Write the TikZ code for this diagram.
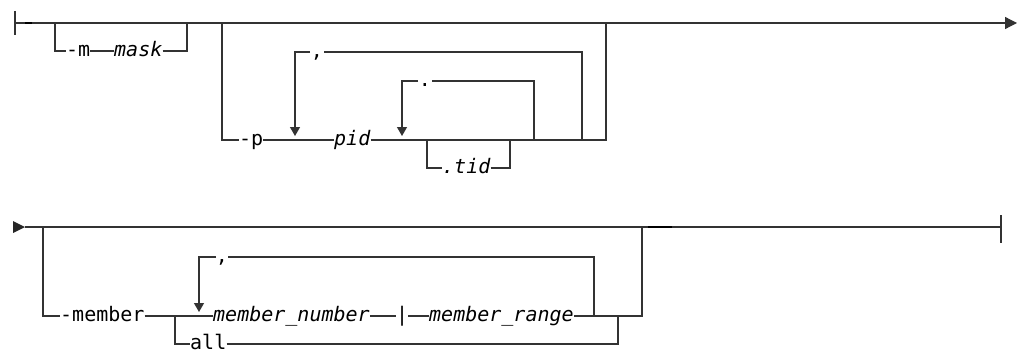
\documentclass[tikz,border=0pt]{standalone}
\usepackage{fontspec}
\setmonofont{DejaVu Sans Mono}
\usetikzlibrary{arrows.meta}
\begin{document}
\ttfamily\fontsize{20}{24}\selectfont
\begin{tikzpicture}[x=1pt,y=-1pt,
  rail/.style={draw=black!80, line width=1.2pt},
  heavy/.style={draw=black, line width=2.2pt},
  lbl/.style={inner sep=0pt, anchor=mid west, font=\ttfamily\fontsize{20}{24}\selectfont},
  var/.style={inner sep=0pt, anchor=mid west, font=\ttfamily\itshape\fontsize{20}{24}\selectfont},
  sepmark/.style={inner sep=0pt, anchor=mid, font=\ttfamily\fontsize{20}{24}\selectfont},
  looparrow/.style={-{Triangle[length=9pt,width=10pt]}},
  endarrow/.style={-{Triangle[length=12pt,width=12pt]}}]
\useasboundingbox (0,0) rectangle (1019,353);

% ---------- row 1 ----------
\coordinate (s1) at (15,23);
\coordinate (s1t) at (15,11);
\coordinate (s1b) at (15,35);
\coordinate (e1) at (1017,23);
\draw[rail] (s1t) -- (s1b);
\draw[rail,endarrow] (s1) -- (e1);
\coordinate (h1a) at (25,23); \coordinate (h1b) at (32,23);
\draw[heavy] (h1a) -- (h1b);

% -m mask
\coordinate (m1) at (55,23);
\coordinate (m2) at (187,23);
\node[lbl] (mopt) at (66,51) {-m};
\node[var] (mask) at (114,51) {mask};
\draw[rail] (m1) |- (mopt.mid west);
\draw[rail] (mopt.mid east) -- (mask.mid west);
\draw[rail] (mask.mid east) -| (m2);

% -p pid
\coordinate (p1) at (222,23);
\coordinate (p2) at (606,23);
\node[lbl] (popt) at (239,140) {-p};
\node[var] (pid) at (334,140) {pid};
\draw[rail] (p1) |- (popt.mid west);
\draw[rail] (popt.mid east) -- (pid.mid west);
\draw[rail] (pid.mid east) -| (p2);

% comma repeat loop
\coordinate (c1) at (295,136);
\coordinate (c2) at (582,140);
\node[sepmark] (cm1) at (317,52) {,};
\draw[rail] (c2) |- ([xshift=7pt]cm1.mid);
\draw[rail,looparrow] ([xshift=-7pt]cm1.mid) -| (c1);

% dot repeat loop
\coordinate (d1) at (402,136);
\coordinate (d2) at (534,140);
\node[sepmark] (dt1) at (425,81) {.};
\draw[rail] (d2) |- ([xshift=7pt]dt1.mid);
\draw[rail,looparrow] ([xshift=-7pt]dt1.mid) -| (d1);

% .tid optional
\coordinate (t1) at (427,140);
\coordinate (t2) at (510,140);
\node[var] (tid) at (442,168) {.tid};
\draw[rail] (t1) |- (tid.mid west);
\draw[rail] (tid.mid east) -| (t2);

% ---------- row 2 ----------
\coordinate (s2) at (13,227);
\coordinate (s2tip) at (25,227);
\coordinate (s2u) at (13,221);
\coordinate (s2d) at (13,233);
\fill[black!85] (s2u) -- (s2tip) -- (s2d) -- cycle;
\coordinate (e2) at (1001,227);
\coordinate (e2t) at (1001,215);
\coordinate (e2b) at (1001,243);
\draw[rail] (s2tip) -- (e2);
\draw[rail] (e2t) -- (e2b);
\coordinate (h2a) at (648,227); \coordinate (h2b) at (672,227);
\draw[heavy] (h2a) -- (h2b);

\coordinate (b1) at (43,227);
\coordinate (b2) at (642,227);
\node[lbl] (mem) at (60,316) {-member};
\node[var] (mnum) at (213,316) {member\_number};
\node[lbl] (bar) at (396,316) {|};
\node[var] (mrange) at (429,316) {member\_range};
\coordinate (j1) at (175,316);
\coordinate (j2) at (618,316);
\node[lbl] (all) at (190,344) {all};
\draw[rail] (b1) |- (mem.mid west);
\draw[rail] (mem.mid east) -- (mnum.mid west);
\draw[rail] (mnum.mid east) -- (bar.mid west);
\draw[rail] (bar.mid east) -- (mrange.mid west);
\draw[rail] (mrange.mid east) -| (b2);
\draw[rail] (j1) |- (all.mid west);
\draw[rail] (all.mid east) -| (j2);

% comma repeat loop row 2
\coordinate (r1) at (199,312);
\coordinate (r2) at (594,316);
\node[sepmark] (cm2) at (222,257) {,};
\draw[rail] (r2) |- ([xshift=6pt]cm2.mid);
\draw[rail,looparrow] ([xshift=-6pt]cm2.mid) -| (r1);
\end{tikzpicture}
\end{document}
